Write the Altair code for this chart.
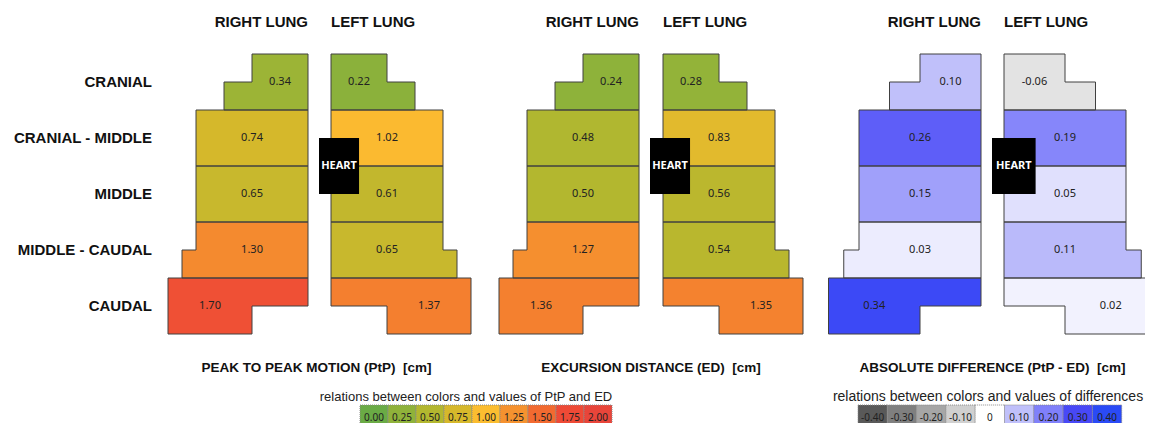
import altair as alt
import pandas as pd

# ---------------- data ----------------
rows = ["CRANIAL", "CRANIAL - MIDDLE", "MIDDLE", "MIDDLE - CAUDAL", "CAUDAL"]
ptp_right = [0.34, 0.74, 0.65, 1.30, 1.70]
ptp_left = [0.22, 1.02, 0.61, 0.65, 1.37]
ed_right = [0.24, 0.48, 0.50, 1.27, 1.36]
ed_left = [0.28, 0.83, 0.56, 0.54, 1.35]
diff_right = [0.10, 0.26, 0.15, 0.03, 0.34]
diff_left = [-0.06, 0.19, 0.05, 0.11, 0.02]

motion_steps = [0.00, 0.25, 0.50, 0.75, 1.00, 1.25, 1.50, 1.75, 2.00]
motion_labels = ["0.00", "0.25", "0.50", "0.75", "1.00", "1.25", "1.50", "1.75", "2.00"]
motion_colors = ["#6aab45", "#8fb23a", "#b3b72f", "#d6b82b", "#fbbd30",
                 "#f5922f", "#f26a30", "#ee4a36", "#e8453a"]
diff_steps = [-0.40, -0.30, -0.20, -0.10, 0.0, 0.10, 0.20, 0.30, 0.40]
diff_labels = ["-0.40", "-0.30", "-0.20", "-0.10", "0", "0.10", "0.20", "0.30", "0.40"]
diff_colors = ["#595959", "#7f7f7f", "#a6a6a6", "#d0d0d0", "#ffffff",
               "#c0c0fa", "#8080fa", "#4848f6", "#2a4af6"]

panel_titles = ["PEAK TO PEAK MOTION (PtP)\u00a0 [cm]",
                "EXCURSION DISTANCE (ED)\u00a0 [cm]",
                "ABSOLUTE DIFFERENCE (PtP - ED)\u00a0 [cm]"]
legend_titles = ["relations between colors and values of PtP and ED",
                 "relations between colors and values of differences"]
side_titles = ["RIGHT LUNG", "LEFT LUNG"]

# ---------------- layout (pixel geometry) ----------------
TOP, ROW_H = 54, 56
PANELS = [dict(xr=308, xl=331, u=28), dict(xr=639, xl=663, u=28), dict(xr=981, xl=1004, u=30.5)]
# per row: (top half (outer, inner), bottom half (outer, inner)) in lobe units from the midline
SHAPE = [((2, 0), (3, 0)), ((4, 0), (4, 0)), ((4, 0), (4, 0)), ((4, 0), (4.5, 0)), ((5, 0), (5, 2))]
panel_values = [(ptp_right, ptp_left), (ed_right, ed_left), (diff_right, diff_left)]

rect_rows, line_rows, val_rows = [], [], []
for p, (geo, (rv, lv)) in enumerate(zip(PANELS, panel_values)):
    for s, vals in enumerate((rv, lv)):
        for r, v in enumerate(vals):
            yt = TOP + r * ROW_H
            ym, yb = yt + ROW_H / 2, yt + ROW_H
            parts = []
            for (outer, inner) in SHAPE[r]:
                if s == 0:
                    parts.append((geo["xr"] - outer * geo["u"], geo["xr"] - inner * geo["u"]))
                else:
                    parts.append((geo["xl"] + inner * geo["u"], geo["xl"] + outer * geo["u"]))
            for (a, b), (y1, y2) in zip(parts, [(yt, ym), (ym, yb)]):
                rect_rows.append(dict(panel=p, x=a, x2=b, y=y1, y2=y2, v=v))
            (a1, b1), (a2, b2) = parts
            pts = [(a1, yt), (b1, yt), (b1, ym), (b2, ym), (b2, yb), (a2, yb), (a2, ym), (a1, ym), (a1, yt)]
            cid = f"{p}-{s}-{r}"
            for k, (x, y) in enumerate(pts):
                line_rows.append(dict(id=cid, k=k, x=x, y=y))
            w1, w2 = b1 - a1, b2 - a2
            cx = (a1 + b1) / 2 if w1 <= w2 else (a2 + b2) / 2
            val_rows.append(dict(x=cx, y=ym, t=f"{v:.2f}"))

rect_df = pd.DataFrame(rect_rows)
line_df = pd.DataFrame(line_rows)
val_df = pd.DataFrame(val_rows)

heart_df = pd.DataFrame([dict(x=g["xr"] + 11, x2=g["xr"] + 11 + 1.43 * g["u"], y=138, y2=194,
                              cx=g["xr"] + 11 + 0.715 * g["u"], cy=166, t="HEART") for g in PANELS])
right_hdr = pd.DataFrame([dict(x=g["xr"], y=22, t=side_titles[0]) for g in PANELS])
left_hdr = pd.DataFrame([dict(x=g["xl"], y=22, t=side_titles[1]) for g in PANELS])
row_df = pd.DataFrame([dict(x=152, y=TOP + (i + 0.5) * ROW_H, t=t) for i, t in enumerate(rows)])
ptitle_df = pd.DataFrame([dict(x=(g["xr"] + g["xl"]) / 2 - (3 if i == 0 else 0), y=368, t=t)
                          for i, (g, t) in enumerate(zip(PANELS, panel_titles))])
ltitle1_df = pd.DataFrame([dict(x=466, y=397, t=legend_titles[0])])
ltitle2_df = pd.DataFrame([dict(x=988, y=397, t=legend_titles[1])])

mleg_df = pd.DataFrame([dict(x=360 + i * 28, x2=360 + (i + 1) * 28, y=405, y2=431, v=v, t=t)
                        for i, (v, t) in enumerate(zip(motion_steps, motion_labels))])
dleg_df = pd.DataFrame([dict(x=858 + i * 29.3, x2=858 + (i + 1) * 29.3, y=405, y2=431, v=v, t=t)
                        for i, (v, t) in enumerate(zip(diff_steps, diff_labels))])

XS = alt.Scale(domain=[8, 1145], nice=False, zero=False)
YS = alt.Scale(domain=[8, 423], reverse=True, nice=False, zero=False)
X = alt.X("x:Q", scale=XS, axis=None)
X2 = alt.X2("x2:Q")
Y = alt.Y("y:Q", scale=YS, axis=None)
Y2 = alt.Y2("y2:Q")

motion_scale = alt.Scale(domain=motion_steps, range=motion_colors, interpolate="rgb")
diff_scale = alt.Scale(domain=diff_steps, range=diff_colors, interpolate="rgb")

cells_motion = alt.Chart(rect_df[rect_df.panel < 2]).mark_rect(strokeWidth=0).encode(
    x=X, x2=X2, y=Y, y2=Y2, fill=alt.Fill("v:Q", scale=motion_scale, legend=None))
cells_diff = alt.Chart(rect_df[rect_df.panel == 2]).mark_rect(strokeWidth=0).encode(
    x=X, x2=X2, y=Y, y2=Y2, fill=alt.Fill("v:Q", scale=diff_scale, legend=None))
outlines = alt.Chart(line_df).mark_line(color="#404040", strokeWidth=1, strokeJoin="miter").encode(
    x=X, y=Y, detail="id:N", order=alt.Order("k:Q"))
values = alt.Chart(val_df).mark_text(font="Noto Sans", fontSize=11, color="#222222").encode(
    x=X, y=Y, text="t:N")
heart = alt.Chart(heart_df).mark_rect(color="black").encode(x=X, x2=X2, y=Y, y2=Y2)
heart_txt = alt.Chart(heart_df).mark_text(font="Noto Sans", fontSize=11, fontWeight="bold",
                                          color="white").encode(
    x=alt.X("cx:Q", scale=XS, axis=None), y=alt.Y("cy:Q", scale=YS, axis=None), text="t:N")
hdr_r = alt.Chart(right_hdr).mark_text(font="Liberation Sans", fontSize=15, fontWeight="bold",
                                       align="right", color="#111111").encode(x=X, y=Y, text="t:N")
hdr_l = alt.Chart(left_hdr).mark_text(font="Liberation Sans", fontSize=15, fontWeight="bold",
                                      align="left", color="#111111").encode(x=X, y=Y, text="t:N")
row_txt = alt.Chart(row_df).mark_text(font="Liberation Sans", fontSize=15, fontWeight="bold",
                                      align="right", color="#111111").encode(x=X, y=Y, text="t:N")
ptitles = alt.Chart(ptitle_df).mark_text(font="Liberation Sans", fontSize=13.5, fontWeight="bold",
                                         color="#111111").encode(x=X, y=Y, text="t:N")
ltitle1 = alt.Chart(ltitle1_df).mark_text(font="Liberation Sans", fontSize=13,
                                          color="#222222").encode(x=X, y=Y, text="t:N")
ltitle2 = alt.Chart(ltitle2_df).mark_text(font="Liberation Sans", fontSize=14,
                                          color="#222222").encode(x=X, y=Y, text="t:N")
leg_m = alt.Chart(mleg_df).mark_rect(stroke="#8a8a8a", strokeWidth=1, strokeDash=[1, 1]).encode(
    x=X, x2=X2, y=Y, y2=Y2, fill=alt.Fill("v:Q", scale=motion_scale, legend=None))
leg_d = alt.Chart(dleg_df).mark_rect(stroke="#8a8a8a", strokeWidth=1, strokeDash=[1, 1]).encode(
    x=X, x2=X2, y=Y, y2=Y2, fill=alt.Fill("v:Q", scale=diff_scale, legend=None))
leg_m_txt = alt.Chart(mleg_df).mark_text(font="Noto Sans", fontSize=10, color="#222222").encode(
    x=alt.X("xc:Q", scale=XS, axis=None), y=alt.Y("yc:Q", scale=YS, axis=None), text="t:N"
).transform_calculate(xc="(datum.x + datum.x2) / 2", yc="(datum.y + datum.y2) / 2")
leg_d_txt = alt.Chart(dleg_df).mark_text(font="Noto Sans", fontSize=10, color="#222222").encode(
    x=alt.X("xc:Q", scale=XS, axis=None), y=alt.Y("yc:Q", scale=YS, axis=None), text="t:N"
).transform_calculate(xc="(datum.x + datum.x2) / 2", yc="(datum.y + datum.y2) / 2")

chart = alt.layer(
    cells_motion, cells_diff, outlines, values, heart, heart_txt,
    hdr_r, hdr_l, row_txt, ptitles, ltitle1, ltitle2, leg_m, leg_d, leg_m_txt, leg_d_txt
).resolve_scale(fill="independent").properties(
    width=1137, height=415, padding=0, autosize=alt.AutoSizeParams(type="none")
).configure_view(stroke=None)

chart.save("out.html", embed_options={"renderer": "svg", "actions": False})
